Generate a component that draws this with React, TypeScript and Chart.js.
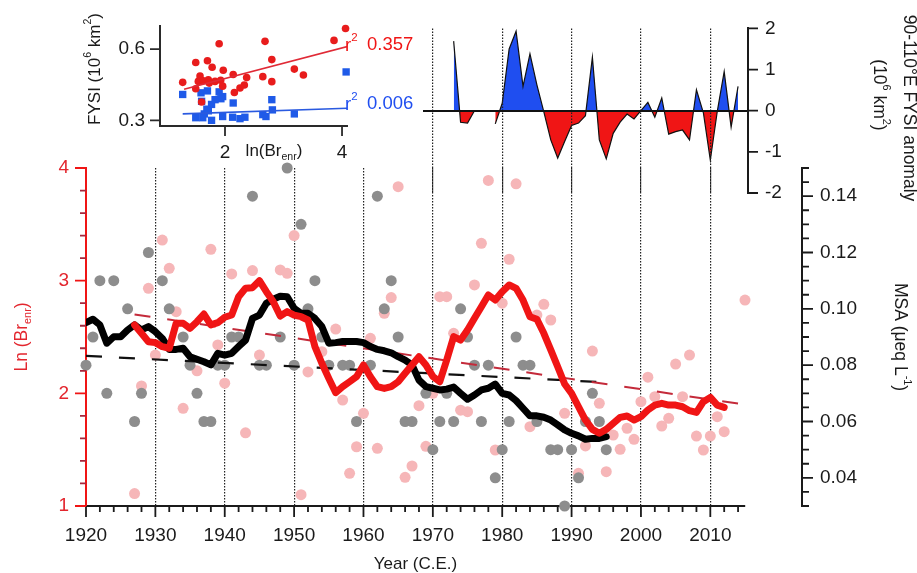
import React, { useEffect, useRef } from 'react';
import { Chart, registerables } from 'chart.js';

Chart.register(...registerables);

// ---------------- DATA ----------------
// Annual Ln(Br_enr) values (pink dots)
const brYears = [1927, 1928, 1929, 1930, 1931, 1932, 1933, 1934, 1936, 1938, 1939, 1940, 1941, 1943, 1944, 1945, 1948, 1949, 1950, 1951, 1952, 1954, 1956, 1957, 1958, 1959, 1960, 1961, 1962, 1963, 1964, 1965, 1966, 1967, 1968, 1969, 1970, 1971, 1972, 1973, 1974, 1975, 1976, 1977, 1978, 1979, 1980, 1981, 1982, 1984, 1985, 1986, 1987, 1989, 1991, 1992, 1993, 1994, 1995, 1996, 1997, 1998, 1999, 2000, 2001, 2002, 2003, 2004, 2005, 2006, 2007, 2008, 2009, 2010, 2011, 2012, 2015];
const brLn = [1.11, 2.065, 2.932, 2.34, 3.36, 3.11, 2.725, 1.867, 2.2, 3.278, 2.43, 2.09, 3.06, 1.65, 3.09, 2.34, 3.095, 3.065, 3.4, 1.1, 2.19, 2.37, 2.57, 1.94, 1.29, 1.526, 1.823, 2.488, 1.512, 2.71, 2.85, 3.834, 1.255, 1.355, 1.89, 1.53, 2.0, 2.858, 2.858, 2.533, 1.85, 1.837, 2.962, 3.331, 3.89, 1.497, 2.8, 3.19, 3.86, 1.704, 2.695, 2.79, 2.651, 1.823, 1.29, 1.533, 2.375, 1.911, 1.305, 1.63, 1.503, 1.69, 1.592, 1.926, 2.143, 1.97, 1.71, 1.778, 2.26, 1.97, 2.34, 1.621, 1.497, 1.621, 1.793, 1.66, 2.828];

// Annual MSA values (grey dots)
const msaYears = [1920, 1921, 1922, 1923, 1924, 1926, 1927, 1928, 1929, 1931, 1932, 1934, 1935, 1936, 1937, 1938, 1939, 1940, 1941, 1942, 1944, 1945, 1946, 1948, 1949, 1950, 1951, 1952, 1953, 1954, 1955, 1957, 1958, 1959, 1961, 1962, 1963, 1964, 1965, 1966, 1967, 1969, 1970, 1971, 1972, 1973, 1974, 1975, 1976, 1977, 1978, 1979, 1980, 1981, 1982, 1983, 1984, 1985, 1987, 1988, 1989, 1990, 1991, 1992, 1993, 1994, 1995];
const msaVals = [0.08, 0.09, 0.11, 0.07, 0.11, 0.10, 0.06, 0.07, 0.12, 0.11, 0.10, 0.09, 0.08, 0.07, 0.06, 0.06, 0.08, 0.08, 0.09, 0.09, 0.14, 0.08, 0.08, 0.09, 0.15, 0.08, 0.13, 0.10, 0.11, 0.09, 0.08, 0.08, 0.08, 0.06, 0.08, 0.14, 0.10, 0.11, 0.09, 0.06, 0.06, 0.07, 0.05, 0.06, 0.07, 0.06, 0.10, 0.09, 0.08, 0.06, 0.08, 0.04, 0.05, 0.06, 0.09, 0.08, 0.08, 0.06, 0.05, 0.05, 0.03, 0.05, 0.04, 0.06, 0.07, 0.06, 0.05];

// Running mean of Ln(Br_enr) (thick red)
const brMeanYears = [1927, 1928, 1929, 1930, 1931, 1932, 1933, 1934, 1935, 1936, 1937, 1938, 1939, 1940, 1941, 1942, 1943, 1944, 1945, 1946, 1947, 1948, 1949, 1950, 1951, 1952, 1953, 1954, 1955, 1956, 1957, 1958, 1959, 1960, 1961, 1962, 1963, 1964, 1965, 1966, 1967, 1968, 1969, 1970, 1971, 1972, 1973, 1974, 1975, 1976, 1977, 1978, 1979, 1980, 1981, 1982, 1983, 1984, 1985, 1986, 1987, 1988, 1989, 1990, 1991, 1992, 1993, 1994, 1995, 1996, 1997, 1998, 1999, 2000, 2001, 2002, 2003, 2004, 2005, 2006, 2007, 2008, 2009, 2010, 2011, 2012];
const brMeanLn = [2.607, 2.533, 2.458, 2.45, 2.414, 2.40, 2.622, 2.622, 2.577, 2.636, 2.704, 2.607, 2.627, 2.675, 2.695, 2.858, 2.932, 2.938, 3.0, 2.902, 2.813, 2.686, 2.725, 2.695, 2.68, 2.651, 2.414, 2.267, 2.133, 2.006, 2.059, 2.103, 2.148, 2.252, 2.148, 2.059, 2.044, 2.059, 2.103, 2.178, 2.252, 2.325, 2.252, 2.15, 2.103, 2.296, 2.503, 2.473, 2.562, 2.666, 2.769, 2.873, 2.828, 2.902, 2.962, 2.932, 2.828, 2.68, 2.657, 2.533, 2.385, 2.236, 2.083, 2.0, 1.881, 1.763, 1.68, 1.645, 1.68, 1.734, 1.787, 1.799, 1.763, 1.793, 1.852, 1.896, 1.911, 1.896, 1.896, 1.881, 1.846, 1.831, 1.926, 1.964, 1.896, 1.876];

// Running mean of MSA (thick black)
const msaMeanYears = [1920, 1921, 1922, 1923, 1924, 1925, 1926, 1927, 1928, 1929, 1930, 1931, 1932, 1933, 1934, 1935, 1936, 1937, 1938, 1939, 1940, 1941, 1942, 1943, 1944, 1945, 1946, 1947, 1948, 1949, 1950, 1951, 1952, 1953, 1954, 1955, 1956, 1957, 1958, 1959, 1960, 1961, 1962, 1963, 1964, 1965, 1966, 1967, 1968, 1969, 1970, 1971, 1972, 1973, 1974, 1975, 1976, 1977, 1978, 1979, 1980, 1981, 1982, 1983, 1984, 1985, 1986, 1987, 1988, 1989, 1990, 1991, 1992, 1993, 1994, 1995];
const msaMean = [0.0951, 0.0963, 0.0943, 0.0878, 0.0901, 0.0901, 0.0925, 0.0943, 0.0925, 0.0937, 0.0919, 0.0895, 0.0856, 0.0856, 0.086, 0.083, 0.0821, 0.0812, 0.0801, 0.0842, 0.0836, 0.0842, 0.0866, 0.0889, 0.0966, 0.0978, 0.102, 0.1034, 0.1045, 0.1043, 0.1002, 0.0984, 0.0984, 0.0966, 0.0937, 0.0878, 0.088, 0.0884, 0.0884, 0.0884, 0.088, 0.0866, 0.0856, 0.0851, 0.0844, 0.083, 0.0818, 0.0801, 0.0747, 0.0724, 0.0718, 0.0712, 0.0715, 0.0722, 0.07, 0.0679, 0.0694, 0.0712, 0.0718, 0.0733, 0.07, 0.0694, 0.0674, 0.0647, 0.062, 0.062, 0.0615, 0.0605, 0.0588, 0.057, 0.0558, 0.0549, 0.0537, 0.054, 0.054, 0.0546];

// Linear trends (dashed)
const brTrendYears = [1927, 2015];
const brTrendLn = [2.70, 1.90];
const msaTrendYears = [1920, 1995];
const msaTrendVals = [0.0833, 0.0739];

// 90-110E FYSI anomaly (10^6 km^2)
const anomYears = [1973, 1974, 1975, 1976, 1977, 1978, 1979, 1980, 1981, 1982, 1983, 1984, 1985, 1986, 1987, 1988, 1989, 1990, 1991, 1992, 1993, 1994, 1995, 1996, 1997, 1998, 1999, 2000, 2001, 2002, 2003, 2004, 2005, 2006, 2007, 2008, 2009, 2010, 2011, 2012, 2013, 2014];
const anomVals: (number | null)[] = [1.69, -0.28, -0.30, 0.0, null, null, -0.32, 0.18, 1.50, 1.93, 0.59, 1.38, 0.63, -0.03, -0.71, -1.15, -0.75, -0.36, -0.30, -0.12, 1.30, -0.71, -1.17, -0.55, -0.28, -0.08, -0.20, 0.0, 0.20, -0.16, 0.31, -0.57, -0.51, -0.47, -0.71, 0.51, -0.05, -1.20, -0.02, 0.95, -0.40, 0.59];

// Inset: FYSI vs ln(Br_enr)
const insetRedX = [1.277, 1.50, 1.70, 1.78, 1.90, 1.97, 1.50, 1.573, 1.544, 1.63, 1.715, 1.60, 1.83, 1.926, 1.96, 2.14, 2.16, 2.256, 2.33, 2.37, 2.684, 2.80, 2.646, 2.80, 3.185, 3.34, 3.863, 4.06, 1.73];
const insetRedY = [0.46, 0.544, 0.551, 0.524, 0.623, 0.511, 0.433, 0.487, 0.464, 0.467, 0.471, 0.377, 0.464, 0.469, 0.444, 0.493, 0.417, 0.436, 0.449, 0.48, 0.633, 0.556, 0.484, 0.463, 0.516, 0.491, 0.637, 0.687, 0.457];
const insetBlueX = [1.277, 1.59, 1.70, 1.90, 1.96, 1.93, 1.83, 1.77, 1.69, 1.646, 1.715, 1.50, 1.62, 1.77, 1.96, 2.14, 2.13, 2.256, 2.34, 2.646, 2.70, 2.80, 2.81, 3.185, 4.07, 1.60];
const insetBlueY = [0.409, 0.416, 0.424, 0.42, 0.40, 0.391, 0.387, 0.367, 0.347, 0.327, 0.34, 0.311, 0.311, 0.30, 0.316, 0.373, 0.313, 0.307, 0.313, 0.324, 0.316, 0.387, 0.344, 0.327, 0.504, 0.38];
const insetRedFitX = [1.30, 4.09];
const insetRedFitY = [0.431, 0.611];
const insetBlueFitX = [1.277, 4.09];
const insetBlueFitY = [0.327, 0.351];
const rSqRed = '0.357';
const rSqBlue = '0.006';

// Tick labels
const yearTicks = [1920, 1930, 1940, 1950, 1960, 1970, 1980, 1990, 2000, 2010];
const anomGridYears = [1970, 1980, 1990, 2000, 2010];
const lnTicks = [1, 2, 3, 4];
const msaTicks = [0.04, 0.06, 0.08, 0.10, 0.12, 0.14];
const anomTicks = [-2, -1, 0, 1, 2];
const insetXTicks = [2, 4];
const insetYTicks = [0.3, 0.6];

// ---------------- LAYOUT / STYLE ----------------
const W = 917;
const H = 573;
const FONT = '"Liberation Sans", Arial, Helvetica, sans-serif';
const MAIN = { left: 86, right: 745, top: 168, bottom: 506 };
const YEAR_MIN = 1920;
const YEAR_MAX = 2015;
const yearAt = (px: number) => YEAR_MIN + ((px - MAIN.left) * (YEAR_MAX - YEAR_MIN)) / (MAIN.right - MAIN.left);
const ANOM = { left: 423, right: 748, top: 24, bottom: 193 };
const MSA_AXIS_X = 802;
const INSET = { left: 160, right: 347, top: 21, bottom: 126 };

const RED = '#f01515';
const RED_TEXT = '#e3262e';
const BLUE = '#1f4ef0';
const PINK = '#f6b6b8';
const GREY = '#8d8d8d';
const INK = '#1a1a1a';
const TICK_SIZE = 19;

const range = (a: number, b: number, step: number) => {
  const out: number[] = [];
  for (let v = a; v <= b + 1e-9; v += step) out.push(Math.round(v * 10000) / 10000);
  return out;
};
const isMult = (v: number, m: number) => Math.abs(v / m - Math.round(v / m)) < 1e-6;

const xy = (xs: number[], ys: (number | null)[]) => xs.map((x, i) => ({ x, y: ys[i] }));

type Seg = { t: string; s?: 'sub' | 'sup' };
function drawRich(ctx: CanvasRenderingContext2D, segs: Seg[], x: number, y: number, size: number, color: string, rot: number, align: 'center' | 'left' = 'center') {
  ctx.save();
  ctx.translate(x, y);
  ctx.rotate(rot);
  const small = size * 0.62;
  let total = 0;
  const widths = segs.map((s) => {
    ctx.font = `${s.s ? small : size}px ${FONT}`;
    const w = ctx.measureText(s.t).width;
    total += w;
    return w;
  });
  let cx = align === 'center' ? -total / 2 : 0;
  ctx.fillStyle = color;
  ctx.textBaseline = 'middle';
  ctx.textAlign = 'left';
  segs.forEach((s, i) => {
    ctx.font = `${s.s ? small : size}px ${FONT}`;
    const dy = s.s === 'sub' ? size * 0.33 : s.s === 'sup' ? -size * 0.42 : 0;
    ctx.fillText(s.t, cx, dy);
    cx += widths[i];
  });
  ctx.restore();
}

type TickSpec = { scale: string; side: 'bottom' | 'left' | 'right'; major: number[]; majorLen: number; minor?: number[]; minorLen?: number; color: string; minorColor?: string; width?: number };
function drawTickMarks(chart: any, specs: TickSpec[]) {
  const ctx = chart.ctx as CanvasRenderingContext2D;
  for (const sp of specs) {
    const sc = chart.scales[sp.scale];
    if (!sc) continue;
    const groups: [number[], number, string][] = [[sp.major, sp.majorLen, sp.color]];
    if (sp.minor) groups.push([sp.minor, sp.minorLen ?? sp.majorLen / 2, sp.minorColor ?? sp.color]);
    for (const [vals, len, color] of groups) {
      ctx.save();
      ctx.strokeStyle = color;
      ctx.lineWidth = sp.width ?? 1.8;
      ctx.beginPath();
      for (const v of vals) {
        const p = sc.getPixelForValue(v);
        if (sp.side === 'bottom') {
          ctx.moveTo(p, sc.top);
          ctx.lineTo(p, sc.top + len);
        } else if (sp.side === 'left') {
          ctx.moveTo(sc.right, p);
          ctx.lineTo(sc.right - len, p);
        } else {
          ctx.moveTo(sc.left, p);
          ctx.lineTo(sc.left + len, p);
        }
      }
      ctx.stroke();
      ctx.restore();
    }
  }
}

const setTicks = (vals: number[]) => (s: any) => {
  s.ticks = vals.map((value) => ({ value }));
};

export default function App() {
  const mainRef = useRef<HTMLCanvasElement>(null);
  const anomRef = useRef<HTMLCanvasElement>(null);
  const msaRef = useRef<HTMLCanvasElement>(null);
  const insetRef = useRef<HTMLCanvasElement>(null);

  useEffect(() => {
    Chart.defaults.font.family = FONT;
    const charts: Chart[] = [];

    // ---------- MAIN CHART ----------
    const mainDecor = {
      id: 'mainDecor',
      afterDraw(chart: any) {
        const { ctx, chartArea } = chart;
        drawTickMarks(chart, [
          { scale: 'x', side: 'bottom', major: yearTicks, majorLen: 11, minor: range(1922, 2014, 2).filter((v) => !isMult(v, 10)), minorLen: 6, color: INK },
          { scale: 'y', side: 'left', major: lnTicks, majorLen: 11, minor: range(1.2, 3.8, 0.2).filter((v) => !isMult(v, 1)), minorLen: 6, color: RED, minorColor: '#a8283c' },
        ]);
        drawRich(ctx, [{ t: 'Ln (Br' }, { t: 'enr', s: 'sub' }, { t: ')' }], 22, (chartArea.top + chartArea.bottom) / 2, 17.5, RED_TEXT, -Math.PI / 2);
        drawRich(ctx, [{ t: 'Year (C.E.)' }], (chartArea.left + chartArea.right) / 2, 564, 17, INK, 0);
      },
    };

    charts.push(
      new Chart(mainRef.current!, {
        type: 'scatter',
        data: {
          datasets: [
            { label: 'Br running mean', data: xy(brMeanYears, brMeanLn), yAxisID: 'y', showLine: true, borderColor: RED, borderWidth: 7, pointRadius: 0, borderJoinStyle: 'round', borderCapStyle: 'round' } as any,
            { label: 'MSA running mean', data: xy(msaMeanYears, msaMean), yAxisID: 'y2', showLine: true, borderColor: '#000', borderWidth: 7, pointRadius: 0, borderJoinStyle: 'round', borderCapStyle: 'round' } as any,
            { label: 'Br trend', data: xy(brTrendYears, brTrendLn), yAxisID: 'y', showLine: true, borderColor: '#c42a3a', borderWidth: 2, borderDash: [16, 17], pointRadius: 0 } as any,
            { label: 'MSA trend', data: xy(msaTrendYears, msaTrendVals), yAxisID: 'y2', showLine: true, borderColor: '#111', borderWidth: 2.2, borderDash: [16, 17], pointRadius: 0 } as any,
            { label: 'MSA', data: xy(msaYears, msaVals), yAxisID: 'y2', clip: false, pointRadius: 5.5, pointBackgroundColor: GREY, pointBorderWidth: 0, pointBorderColor: 'rgba(0,0,0,0)' } as any,
            { label: 'Br', data: xy(brYears, brLn), yAxisID: 'y', clip: false, pointRadius: 5.5, pointBackgroundColor: PINK, pointBorderWidth: 0, pointBorderColor: 'rgba(0,0,0,0)' } as any,
          ],
        },
        options: {
          responsive: false,
          animation: false,
          events: [],
          layout: { padding: { left: 0, top: MAIN.top, right: W - MAIN.right, bottom: 0 } },
          plugins: { legend: { display: false }, tooltip: { enabled: false } },
          scales: {
            x: {
              type: 'linear',
              position: 'bottom',
              min: YEAR_MIN,
              max: YEAR_MAX,
              afterBuildTicks: setTicks(yearTicks),
              afterFit: (s: any) => {
                s.height = H - MAIN.bottom;
              },
              ticks: { callback: (v: any) => String(v), font: { size: TICK_SIZE }, color: INK, padding: 18, maxRotation: 0, autoSkip: false },
              grid: { color: (c: any) => (c.tick && c.tick.value !== YEAR_MIN ? '#222' : 'rgba(0,0,0,0)'), lineWidth: 1.2, drawTicks: false },
              border: { display: true, color: INK, width: 2, dash: [1.5, 1.5] },
            },
            y: {
              type: 'linear',
              position: 'left',
              min: 1,
              max: 4,
              afterBuildTicks: setTicks(lnTicks),
              afterFit: (s: any) => {
                s.width = MAIN.left;
              },
              ticks: { callback: (v: any) => String(v), font: { size: TICK_SIZE }, color: RED_TEXT, padding: 17 },
              grid: { display: false, drawTicks: false },
              border: { display: true, color: RED, width: 2 },
            },
            y2: { type: 'linear', min: 0.03, max: 0.15, display: false },
          },
        } as any,
        plugins: [mainDecor],
      })
    );

    // ---------- ANOMALY PANEL ----------
    const anomDecor = {
      id: 'anomDecor',
      afterDraw(chart: any) {
        const { ctx } = chart;
        drawTickMarks(chart, [{ scale: 'y', side: 'right', major: anomTicks, majorLen: 10, color: INK }]);
        drawRich(ctx, [{ t: '90-110°E FYSI anomaly' }], 909, 108, 17.5, INK, Math.PI / 2);
        drawRich(ctx, [{ t: '(10' }, { t: '6', s: 'sup' }, { t: ' km' }, { t: '2', s: 'sup' }, { t: ')' }], 879, 95, 17.5, INK, Math.PI / 2);
      },
    };
    charts.push(
      new Chart(anomRef.current!, {
        type: 'line',
        data: {
          datasets: [
            {
              label: 'FYSI anomaly',
              data: xy(anomYears, anomVals),
              borderColor: '#111',
              borderWidth: 1.2,
              pointRadius: 0,
              tension: 0,
              spanGaps: false,
              fill: { target: 'origin', above: BLUE, below: RED },
            } as any,
          ],
        },
        options: {
          responsive: false,
          animation: false,
          events: [],
          layout: { padding: { left: ANOM.left, top: ANOM.top, right: 0, bottom: H - ANOM.bottom } },
          plugins: { legend: { display: false }, tooltip: { enabled: false } },
          scales: {
            x: {
              type: 'linear',
              min: yearAt(ANOM.left),
              max: yearAt(ANOM.right),
              afterBuildTicks: setTicks(anomGridYears),
              afterFit: (s: any) => {
                s.height = 0;
              },
              ticks: { display: false },
              grid: { color: '#222', lineWidth: 1.2, drawTicks: false, z: 1 },
              border: { display: false, dash: [1.5, 1.5], z: 2 },
            },
            y: {
              type: 'linear',
              position: 'right',
              min: -2,
              max: 2,
              afterBuildTicks: setTicks(anomTicks),
              afterFit: (s: any) => {
                s.width = W - ANOM.right;
              },
              ticks: { callback: (v: any) => String(v), font: { size: TICK_SIZE }, color: INK, padding: 17, z: 2 },
              grid: { color: (c: any) => (c.tick && c.tick.value === 0 ? '#111' : 'rgba(0,0,0,0)'), lineWidth: 2, drawTicks: false, z: 1 },
              border: { display: true, color: INK, width: 2, z: 2 },
            },
          },
        } as any,
        plugins: [anomDecor],
      })
    );

    // ---------- MSA AXIS ----------
    const msaDecor = {
      id: 'msaDecor',
      afterDraw(chart: any) {
        const { ctx, chartArea } = chart;
        drawTickMarks(chart, [
          { scale: 'y', side: 'right', major: msaTicks, majorLen: 11, minor: range(0.03, 0.15, 0.005).filter((v) => !msaTicks.some((t) => Math.abs(t - v) < 1e-6)), minorLen: 7, color: INK },
        ]);
        drawRich(ctx, [{ t: 'MSA (μeq L' }, { t: '-1', s: 'sup' }, { t: ')' }], 900, (chartArea.top + chartArea.bottom) / 2, 17.5, INK, Math.PI / 2);
      },
    };
    charts.push(
      new Chart(msaRef.current!, {
        type: 'scatter',
        data: { datasets: [] },
        options: {
          responsive: false,
          animation: false,
          events: [],
          layout: { padding: { left: MSA_AXIS_X - 100, top: MAIN.top, right: 0, bottom: H - MAIN.bottom } },
          plugins: { legend: { display: false }, tooltip: { enabled: false } },
          scales: {
            x: { type: 'linear', display: false, min: 0, max: 1 },
            y: {
              type: 'linear',
              position: 'right',
              min: 0.03,
              max: 0.15,
              afterBuildTicks: setTicks(msaTicks),
              afterFit: (s: any) => {
                s.width = W - MSA_AXIS_X;
              },
              ticks: { callback: (v: any) => Number(v).toFixed(2), font: { size: TICK_SIZE }, color: INK, padding: 18 },
              grid: { display: false, drawOnChartArea: false, drawTicks: false },
              border: { display: true, color: INK, width: 2 },
            },
          },
        } as any,
        plugins: [msaDecor],
      })
    );

    // ---------- INSET ----------
    const insetDecor = {
      id: 'insetDecor',
      afterDraw(chart: any) {
        const { ctx } = chart;
        drawTickMarks(chart, [
          { scale: 'x', side: 'bottom', major: insetXTicks, majorLen: 10, color: '#2a2a2a' },
          { scale: 'y', side: 'left', major: insetYTicks, majorLen: 10, color: '#2a2a2a' },
        ]);
        drawRich(ctx, [{ t: 'FYSI (10' }, { t: '6', s: 'sup' }, { t: ' km' }, { t: '2', s: 'sup' }, { t: ')' }], 95, 69, 17, INK, -Math.PI / 2);
        drawRich(ctx, [{ t: 'ln(Br' }, { t: 'enr', s: 'sub' }, { t: ')' }], 274, 151, 17, INK, 0);
        drawRich(ctx, [{ t: 'r' }, { t: '2', s: 'sup' }], 345, 46, 18.5, RED, 0, 'left');
        drawRich(ctx, [{ t: rSqRed }], 367, 45, 18.5, RED, 0, 'left');
        drawRich(ctx, [{ t: 'r' }, { t: '2', s: 'sup' }], 345, 105, 18.5, BLUE, 0, 'left');
        drawRich(ctx, [{ t: rSqBlue }], 367, 104, 18.5, BLUE, 0, 'left');
      },
    };
    charts.push(
      new Chart(insetRef.current!, {
        type: 'scatter',
        data: {
          datasets: [
            { label: 'red fit', data: xy(insetRedFitX, insetRedFitY), showLine: true, borderColor: '#e02a36', borderWidth: 1.6, pointRadius: 0 } as any,
            { label: 'blue fit', data: xy(insetBlueFitX, insetBlueFitY), showLine: true, borderColor: '#2a5ae0', borderWidth: 1.6, pointRadius: 0 } as any,
            { label: 'red', data: xy(insetRedX, insetRedY), clip: false, pointRadius: 3.8, pointBackgroundColor: '#e81c1c', pointBorderWidth: 0, pointBorderColor: 'rgba(0,0,0,0)' } as any,
            { label: 'blue', data: xy(insetBlueX, insetBlueY), clip: false, pointStyle: 'rect', pointRadius: 5.2, pointBackgroundColor: '#1f5ae8', pointBorderWidth: 0, pointBorderColor: 'rgba(0,0,0,0)' } as any,
          ],
        },
        options: {
          responsive: false,
          animation: false,
          events: [],
          layout: { padding: { left: 0, top: INSET.top, right: W - INSET.right, bottom: 0 } },
          plugins: { legend: { display: false }, tooltip: { enabled: false } },
          scales: {
            x: {
              type: 'linear',
              min: 0.889,
              max: 4.085,
              afterBuildTicks: setTicks(insetXTicks),
              afterFit: (s: any) => {
                s.height = H - INSET.bottom;
              },
              ticks: { callback: (v: any) => String(v), font: { size: TICK_SIZE }, color: INK, padding: 15 },
              grid: { display: false, drawTicks: false },
              border: { display: true, color: '#2a2a2a', width: 2 },
            },
            y: {
              type: 'linear',
              min: 0.276,
              max: 0.696,
              afterBuildTicks: setTicks(insetYTicks),
              afterFit: (s: any) => {
                s.width = INSET.left;
              },
              ticks: { callback: (v: any) => Number(v).toFixed(1), font: { size: TICK_SIZE }, color: INK, padding: 15 },
              grid: { display: false, drawTicks: false },
              border: { display: true, color: '#2a2a2a', width: 2 },
            },
          },
        } as any,
        plugins: [insetDecor],
      })
    );

    return () => {
      charts.forEach((c) => c.destroy());
    };
  }, []);

  const canvasStyle: React.CSSProperties = { position: 'absolute', left: 0, top: 0, width: W, height: H, display: 'block' };
  return (
    <div style={{ position: 'fixed', left: 0, top: 0, width: W, height: H, background: '#fff', overflow: 'hidden' }}>
      <canvas ref={mainRef} width={W} height={H} style={canvasStyle} />
      <canvas ref={anomRef} width={W} height={H} style={canvasStyle} />
      <canvas ref={msaRef} width={W} height={H} style={canvasStyle} />
      <canvas ref={insetRef} width={W} height={H} style={canvasStyle} />
    </div>
  );
}
